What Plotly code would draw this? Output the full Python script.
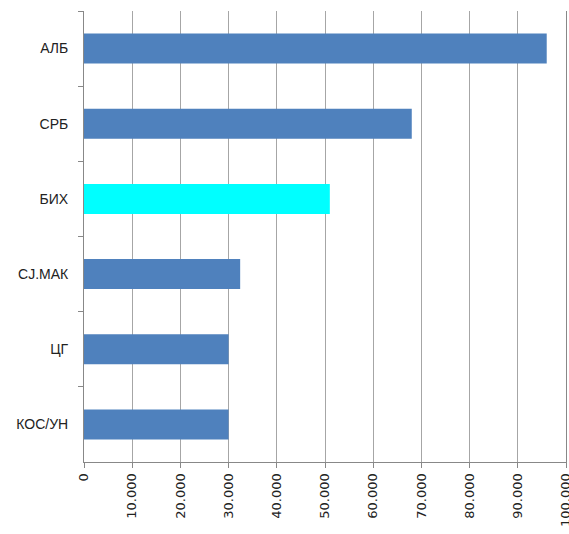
import plotly.graph_objects as go

categories = ["АЛБ", "СРБ", "БИХ", "СЈ.МАК", "ЦГ", "КОС/УН"]
values = [96000, 68000, 51000, 32400, 30000, 30000]
colors = ["#4F81BD", "#4F81BD", "#00FFFF", "#4F81BD", "#4F81BD", "#4F81BD"]
x_ticks = [0, 10000, 20000, 30000, 40000, 50000, 60000, 70000, 80000, 90000, 100000]

fig = go.Figure(go.Bar(
    y=categories, x=values, orientation="h",
    marker=dict(color=colors, line=dict(width=0)),
    width=0.4,
))

fig.update_layout(
    width=569, height=534,
    margin=dict(l=84, r=3, t=11, b=72),
    paper_bgcolor="white", plot_bgcolor="white",
    separators=",.",
    showlegend=False,
    font=dict(family="Liberation Sans, Arial, sans-serif", size=14, color="#222"),
)
fig.update_xaxes(
    range=[0, 100000], tickvals=x_ticks, tickformat=",d",
    tickangle=-90, ticks="outside", ticklen=5, tickcolor="#888",
    showgrid=True, gridcolor="#A6A6A6", gridwidth=1,
    showline=True, linecolor="#888", linewidth=1,
    zeroline=False, automargin=False, ticklabeloverflow="allow",
    tickfont=dict(family="DejaVu Sans, sans-serif", size=13, color="#222"),
)
fig.update_yaxes(
    autorange="reversed", ticks="outside", ticklen=5, tickcolor="#888",
    tickson="boundaries", showgrid=False,
    showline=True, linecolor="#888", linewidth=1, mirror=True,
    ticklabelstandoff=12, automargin=False,
    tickfont=dict(family="Liberation Sans, Arial, sans-serif", size=14, color="#222"),
)

fig.write_html(
    "out.html",
    config={"displayModeBar": False},
    post_script="document.body.style.margin='0';document.body.style.overflow='hidden';",
)
